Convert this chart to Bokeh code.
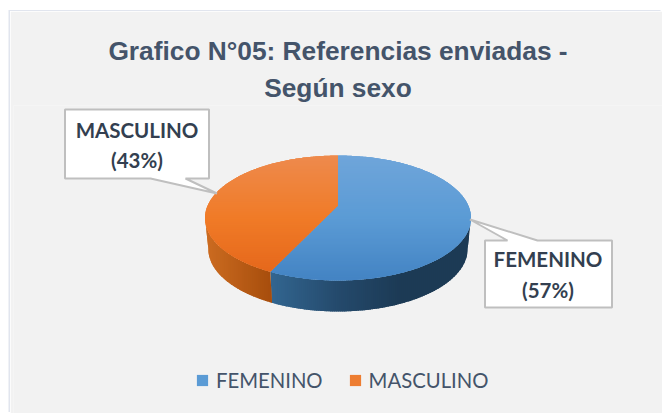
import numpy as np
from bokeh.plotting import figure
from bokeh.models import Title, Legend, LegendItem, Range1d
from bokeh.core.properties import value
from bokeh.embed import file_html
from bokeh.resources import INLINE

# ---- chart values
categories = ["FEMENINO", "MASCULINO"]
shares = [57, 43]
title_lines = ["Grafico N°05: Referencias enviadas -", "Según sexo"]

# ---- layout (page pixels) and style
W, H = 652, 402
LEFT, TOP = 10, 11
FRAME_L, FRAME_T = 13, 105
CX, KX = 337.5, 130.3       # perspective projection of the pie disc
YC, PA, PC = 205.0, -19.0, 0.2
DEPTH, BOTTOM_SCALE = 31.0, 0.975
BG = "#f2f2f2"
TOP_RAMP = {"FEMENINO": ["#6fa5da", "#5b9bd5", "#4383c3"],
            "MASCULINO": ["#ee8a4d", "#f07b27", "#e4651a"]}
SIDE_RAMP = {"FEMENINO": [(272, "#32658f"), (340, "#24496b"), (400, "#1c3a55"), (470, "#1c3a55")],
             "MASCULINO": [(205, "#cc6c21"), (272, "#a64d0c")]}
BASE = {"FEMENINO": "#5b9bd5", "MASCULINO": "#ed7d31"}
BOXES = {"MASCULINO": dict(x0=64.5, x1=208.5, y0=109, y1=178, tail=[(150, 178), (216.5, 193), (185, 178)],
                           tx=136.5, ty=[129, 159]),
         "FEMENINO": dict(x0=484.5, x1=611.5, y0=240, y1=307, tail=[(507, 240), (469.5, 219), (537, 240)],
                          tx=547.5, ty=[258, 289])}


def project(theta):
    u, v = np.sin(theta), np.cos(theta)
    d = 1 + PC * v
    return CX + KX * u / d, (PA * v + YC) / d


def lerp_hex(stops, t):
    xs = [s[0] for s in stops]
    cols = np.array([[int(s[1][i:i + 2], 16) for i in (1, 3, 5)] for s in stops], float)
    return "#%02x%02x%02x" % tuple(int(round(np.interp(t, xs, cols[:, k]))) for k in range(3))


def clip(poly, axis, lo, hi):
    """Sutherland-Hodgman clip of a polygon to the band lo..hi on one axis."""
    def half(pts, keep, bound):
        out = []
        for i in range(len(pts)):
            a, b = pts[i - 1], pts[i]
            ka, kb = keep(a[axis]), keep(b[axis])
            if ka != kb:
                t = (bound - a[axis]) / (b[axis] - a[axis])
                out.append((a[0] + t * (b[0] - a[0]), a[1] + t * (b[1] - a[1])))
            if kb:
                out.append(b)
        return out
    pts = half(poly, lambda c: c >= lo, lo)
    return half(pts, lambda c: c <= hi, hi) if pts else pts


p = figure(width=W, height=H, toolbar_location=None, output_backend="svg",
           x_range=Range1d(FRAME_L, LEFT + W), y_range=Range1d(TOP + H, FRAME_T),
           min_border_left=FRAME_L - LEFT, min_border_right=0, min_border_bottom=0,
           min_border_top=FRAME_T - TOP, margin=(TOP, 0, 0, LEFT),
           background_fill_color=BG, border_fill_color=BG, outline_line_color=None)
p.axis.visible = False
p.grid.visible = False
p.styles = {"box-shadow": "-1.5px -1px 0 #e1e5ee"}

for line in reversed(title_lines):
    p.add_layout(Title(text=line, align="center", text_font="Liberation Sans", text_font_style="bold",
                       text_font_size="26.3px", text_color="#44546a", standoff=5), "above")

# slices, clockwise from 12 o'clock
fractions = np.array(shares, float) / sum(shares)
edges = np.concatenate([[0], np.cumsum(fractions)]) * 2 * np.pi
right_limit = np.arccos(-PC)
left_limit = 2 * np.pi - right_limit
renderers = {}

for name, a0, a1 in zip(categories, edges[:-1], edges[1:]):
    # side wall, painted as overlapping bands so the ramp has no seams
    s0, s1 = max(a0, right_limit), min(a1, left_limit)
    th = np.linspace(s0, s1, 120)
    xt, yt = project(th)
    xb, yb = CX + (xt - CX) * BOTTOM_SCALE, yt + DEPTH
    wall = list(zip(xt, yt)) + list(zip(xb[::-1], yb[::-1]))
    stops = SIDE_RAMP[name]
    bx = np.arange(np.floor(min(xt.min(), xb.min())), np.ceil(max(xt.max(), xb.max())) + 1, 2.0)
    for lo, hi in zip(bx[:-1], bx[1:]):
        c = clip(wall, 0, lo, hi + 1.5)
        if len(c) > 2:
            col = lerp_hex(stops, (lo + hi) / 2)
            p.patch([q[0] for q in c], [q[1] for q in c], fill_color=col, line_color=None)

for name, a0, a1 in zip(categories, edges[:-1], edges[1:]):
    # top face
    th = np.linspace(a0, a1, 240)
    xt, yt = project(th)
    face = [(CX, YC)] + list(zip(xt, yt))
    r = p.patch([q[0] for q in face], [q[1] for q in face], fill_color=BASE[name], line_color=None)
    renderers[name] = r
    full_x, full_y = project(np.linspace(0, 2 * np.pi, 361))
    ymin, ymax = full_y.min(), full_y.max()
    ramp = [(ymin, TOP_RAMP[name][0]), ((ymin + ymax) / 2, TOP_RAMP[name][1]), (ymax, TOP_RAMP[name][2])]
    by = np.arange(np.floor(ymin), np.ceil(ymax) + 1, 2.0)
    for lo, hi in zip(by[:-1], by[1:]):
        c = clip(face, 1, lo, hi + 1.5)
        if len(c) > 2:
            col = lerp_hex(ramp, (lo + hi) / 2)
            p.patch([q[0] for q in c], [q[1] for q in c], fill_color=col, line_color=None)

# callouts
for name, share in zip(categories, shares):
    b = BOXES[name]
    if b["y1"] == b["tail"][0][1]:   # tail leaves the lower edge
        xs = [b["x0"], b["x1"], b["x1"]] + [t[0] for t in reversed(b["tail"])] + [b["x0"]]
        ys = [b["y0"], b["y0"], b["y1"]] + [t[1] for t in reversed(b["tail"])] + [b["y1"]]
    else:                            # tail leaves the upper edge
        xs = [b["x0"]] + [t[0] for t in b["tail"]] + [b["x1"], b["x1"], b["x0"]]
        ys = [b["y0"]] + [t[1] for t in b["tail"]] + [b["y0"], b["y1"], b["y1"]]
    p.patch(xs, ys, fill_color="white", line_color="#bfbfbf", line_width=2)
    p.text([b["tx"]] * 2, b["ty"], text=[name, f"({share}%)"], text_align="center", text_baseline="middle",
           text_font=value("Lato"), text_font_style="bold", text_font_size="20.5px", text_color="#333f50")

legend = Legend(items=[LegendItem(label=n, renderers=[renderers[n]]) for n in categories],
                orientation="horizontal", location=(195 - FRAME_L, 413 - 392),
                background_fill_alpha=0, border_line_color=None, padding=0, margin=0,
                glyph_width=14, glyph_height=14, label_standoff=7, spacing=25,
                label_text_font="Lato", label_text_font_size="20.3px", label_text_color="#44546a")
p.add_layout(legend, "center")

open("out.html", "w").write(file_html(p, INLINE))
